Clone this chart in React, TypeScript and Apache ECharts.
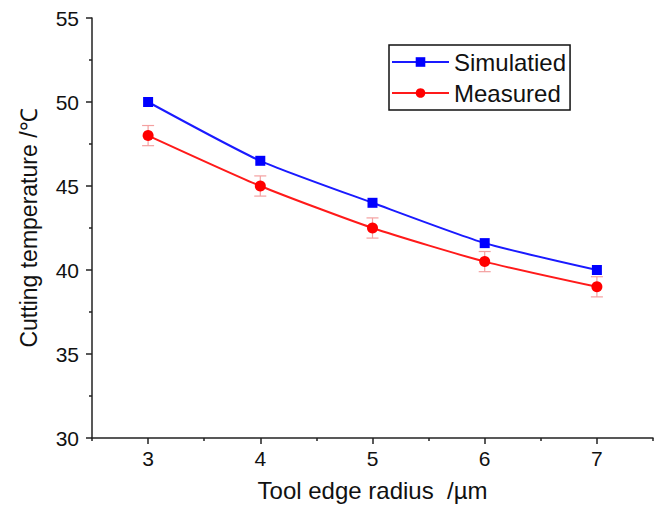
import React, { useEffect, useRef } from "react";
import * as echarts from "echarts";

const radius = [3, 4, 5, 6, 7];
const simulated = [50, 46.5, 44, 41.6, 40];
const measured = [48, 45, 42.5, 40.5, 39];
const measuredErr = [0.6, 0.6, 0.6, 0.6, 0.6];
const xMajorTicks = [3, 4, 5, 6, 7];
const xMinorTicks = [2.5, 3.5, 4.5, 5.5, 6.5, 7.5];

const FONT = "'Liberation Sans', Arial, sans-serif";

export default function App() {
  const ref = useRef<HTMLDivElement>(null);
  useEffect(() => {
    if (!ref.current) return;
    const chart = echarts.init(ref.current, null, { renderer: "svg" });
    const axisColor = "#222";
    const errData = radius.map((x, i) => [x, measured[i] - measuredErr[i], measured[i] + measuredErr[i]]);
    chart.setOption({
      animation: false,
      backgroundColor: "#fff",
      grid: { left: 92, right: 8, top: 18, bottom: 69 },
      legend: {
        orient: "vertical",
        left: 389,
        top: 45,
        padding: [5, 4, 5, 2],
        itemGap: 7,
        itemWidth: 57,
        itemHeight: 12,
        borderColor: "#111",
        borderWidth: 1.5,
        textStyle: { fontFamily: FONT, fontSize: 24, color: "#111", lineHeight: 24 },
        data: ["Simulatied", "Measured"],
      },
      xAxis: [
        {
          type: "value",
          min: 2.5,
          max: 7.5,
          position: "bottom",
          name: "Tool edge radius  /µm",
          nameLocation: "middle",
          nameGap: 40,
          nameTextStyle: { fontFamily: FONT, fontSize: 24, color: "#111" },
          axisLine: { show: true, lineStyle: { color: axisColor, width: 1.5 } },
          axisTick: { show: true, length: 6, customValues: xMajorTicks, lineStyle: { color: axisColor, width: 1.5 } },
          axisLabel: { customValues: xMajorTicks, fontFamily: FONT, fontSize: 21, color: "#111", margin: 10 },
          splitLine: { show: false },
        },
        {
          type: "value",
          min: 2.5,
          max: 7.5,
          position: "bottom",
          offset: 0,
          axisLine: { show: false },
          axisTick: { show: true, length: 3, customValues: xMinorTicks, lineStyle: { color: axisColor, width: 1.5 } },
          axisLabel: { show: false },
          splitLine: { show: false },
        },
      ],
      yAxis: {
        type: "value",
        min: 30,
        max: 55,
        interval: 5,
        name: "Cutting temperature /℃",
        nameLocation: "middle",
        nameGap: 52,
        nameTextStyle: { fontFamily: FONT, fontSize: 23, color: "#111" },
        axisLine: { show: true, lineStyle: { color: axisColor, width: 1.5 } },
        axisTick: { show: true, length: 6, lineStyle: { color: axisColor, width: 1.5 } },
        minorTick: { show: true, splitNumber: 2, length: 3, lineStyle: { color: axisColor, width: 1.5 } },
        axisLabel: { fontFamily: FONT, fontSize: 21, color: "#111", margin: 13 },
        splitLine: { show: false },
      },
      series: [
        {
          name: "Simulatied",
          type: "line",
          data: radius.map((x, i) => [x, simulated[i]]),
          smooth: 0.2,
          symbol: "rect",
          symbolSize: 10,
          color: "#0000ff",
          lineStyle: { color: "#1a1aff", width: 2 },
          itemStyle: { color: "#0000ff" },
          z: 3,
        },
        {
          name: "Measured",
          type: "line",
          data: radius.map((x, i) => [x, measured[i]]),
          smooth: 0.2,
          symbol: "circle",
          symbolSize: 11,
          color: "#ff0000",
          lineStyle: { color: "#ff1a1a", width: 2 },
          itemStyle: { color: "#ff0000" },
          z: 3,
        },
        {
          type: "custom",
          name: "err",
          data: errData,
          z: 2,
          renderItem: (params: any, api: any) => {
            const x = api.value(0);
            const lo = api.coord([x, api.value(1)]);
            const hi = api.coord([x, api.value(2)]);
            const hw = 6;
            const style = { stroke: "#f4a0a0", lineWidth: 1.2 };
            return {
              type: "group",
              children: [
                { type: "line", shape: { x1: lo[0], y1: lo[1], x2: hi[0], y2: hi[1] }, style },
                { type: "line", shape: { x1: lo[0] - hw, y1: lo[1], x2: lo[0] + hw, y2: lo[1] }, style },
                { type: "line", shape: { x1: hi[0] - hw, y1: hi[1], x2: hi[0] + hw, y2: hi[1] }, style },
              ],
            };
          },
        },
      ],
    });
    return () => chart.dispose();
  }, []);
  return <div ref={ref} style={{ width: 661, height: 507, position: "absolute", left: 0, top: 0 }} />;
}
